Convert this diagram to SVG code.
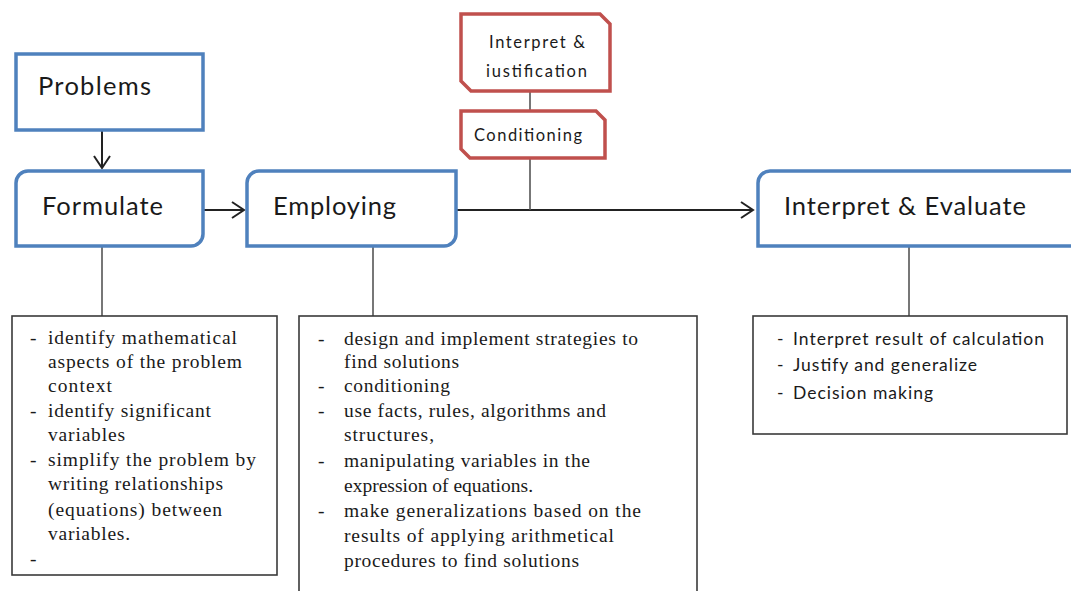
<svg xmlns="http://www.w3.org/2000/svg" width="1071" height="591" viewBox="0 0 1071 591">
<style>
.blue{fill:#fff;stroke:#4F81BD;stroke-width:3.5}
.red{fill:#fff;stroke:#C0504D;stroke-width:3.5}
.box{fill:#fff;stroke:#3a3a3a;stroke-width:1.6}
.big{font-family:Lato,"Liberation Sans",sans-serif;font-size:25.5px;fill:#1a1a1a}
.small{font-family:Lato,"Liberation Sans",sans-serif;font-size:16.5px;fill:#1a1a1a}
.ser{font-family:"Liberation Serif","Times New Roman",serif;font-size:19.5px;fill:#1a1a1a}
.san{font-family:Lato,"Liberation Sans",sans-serif;font-size:17.5px;fill:#1a1a1a}
.ln{stroke:#222;stroke-width:2;fill:none}
.gl{stroke:#555;stroke-width:1.6;fill:none}
</style>
<defs>
<marker id="open" markerWidth="16" markerHeight="18" refX="13" refY="9" orient="auto" markerUnits="userSpaceOnUse">
<path d="M1,1 L13,9 L1,17" fill="none" stroke="#222" stroke-width="2"/>
</marker>
</defs>
<g id="connectors">
<line class="ln" x1="102" y1="131" x2="102" y2="168" marker-end="url(#open)"/>
<line class="ln" x1="204" y1="210" x2="244" y2="210" marker-end="url(#open)"/>
<line class="ln" x1="457" y1="210" x2="753" y2="210" marker-end="url(#open)"/>
<line class="gl" x1="530" y1="92" x2="530" y2="111"/>
<line class="gl" x1="530" y1="158" x2="530" y2="210"/>
<line class="gl" x1="102" y1="247" x2="102" y2="316"/>
<line class="gl" x1="373" y1="247" x2="373" y2="316"/>
<line class="gl" x1="909" y1="247" x2="909" y2="316"/>
</g>
<g id="problems">
<rect class="blue" x="16" y="54" width="187" height="76"/>
<text class="big" x="38" y="95" textLength="113">Problems</text>
</g>
<g id="formulate">
<path class="blue" d="M16,183 A12,12 0 0 1 28,171 H203 V234 A12,12 0 0 1 191,246 H16 Z"/>
<text class="big" x="42" y="215" textLength="121">Formulate</text>
</g>
<g id="employing">
<path class="blue" d="M247,183 A12,12 0 0 1 259,171 H456 V234 A12,12 0 0 1 444,246 H247 Z"/>
<text class="big" x="273" y="215" textLength="123">Employing</text>
</g>
<g id="interpret-evaluate">
<path class="blue" d="M758,183 A12,12 0 0 1 770,171 H1080 V246 H758 Z"/>
<text class="big" x="784" y="215" textLength="242">Interpret &amp; Evaluate</text>
</g>
<g id="interpret-justification">
<path class="red" d="M461,14 H600 L610,24 V91 H471 L461,81 Z"/>
<text class="small" x="489" y="48" textLength="96">Interpret &amp;</text>
<text class="small" x="486" y="77" textLength="101">iustification</text>
</g>
<g id="conditioning">
<path class="red" d="M461,111 H596 L605,120 V158 H470 L461,149 Z"/>
<text class="small" x="474" y="141" textLength="108">Conditioning</text>
</g>
<g id="formulate-list">
<rect class="box" x="12" y="316" width="265" height="259"/>
<g class="ser">
<text x="30" y="344">-</text>
<text x="48" y="344" textLength="189">identify mathematical</text>
<text x="48" y="368" textLength="194">aspects of the problem</text>
<text x="48" y="392" textLength="64">context</text>
<text x="30" y="417">-</text>
<text x="48" y="417" textLength="163">identify significant</text>
<text x="48" y="441" textLength="77">variables</text>
<text x="30" y="466">-</text>
<text x="48" y="466" textLength="208">simplify the problem by</text>
<text x="48" y="490" textLength="175">writing relationships</text>
<text x="48" y="516" textLength="174">(equations) between</text>
<text x="48" y="540" textLength="82">variables.</text>
<text x="30" y="565">-</text>
</g>
</g>
<g id="employing-list">
<rect class="box" x="299" y="316" width="398" height="290"/>
<g class="ser">
<text x="318" y="345">-</text>
<text x="344" y="345" textLength="294">design and implement strategies to</text>
<text x="344" y="368" textLength="115">find solutions</text>
<text x="318" y="392">-</text>
<text x="344" y="392" textLength="106">conditioning</text>
<text x="318" y="417">-</text>
<text x="344" y="417" textLength="262">use facts, rules, algorithms and</text>
<text x="344" y="441" textLength="90">structures,</text>
<text x="318" y="467">-</text>
<text x="344" y="467" textLength="246">manipulating variables in the</text>
<text x="344" y="492">expression of equations.</text>
<text x="318" y="517">-</text>
<text x="344" y="517" textLength="297">make generalizations based on the</text>
<text x="344" y="542" textLength="270">results of applying arithmetical</text>
<text x="344" y="567" textLength="235">procedures to find solutions</text>
</g>
</g>
<g id="interpret-list">
<rect class="box" x="753" y="316" width="314" height="118"/>
<g class="san">
<text x="777" y="345">-</text>
<text x="793" y="345" textLength="251">Interpret result of calculation</text>
<text x="777" y="371">-</text>
<text x="793" y="371" textLength="184">Justify and generalize</text>
<text x="777" y="399">-</text>
<text x="793" y="399" textLength="140">Decision making</text>
</g>
</g>
</svg>
